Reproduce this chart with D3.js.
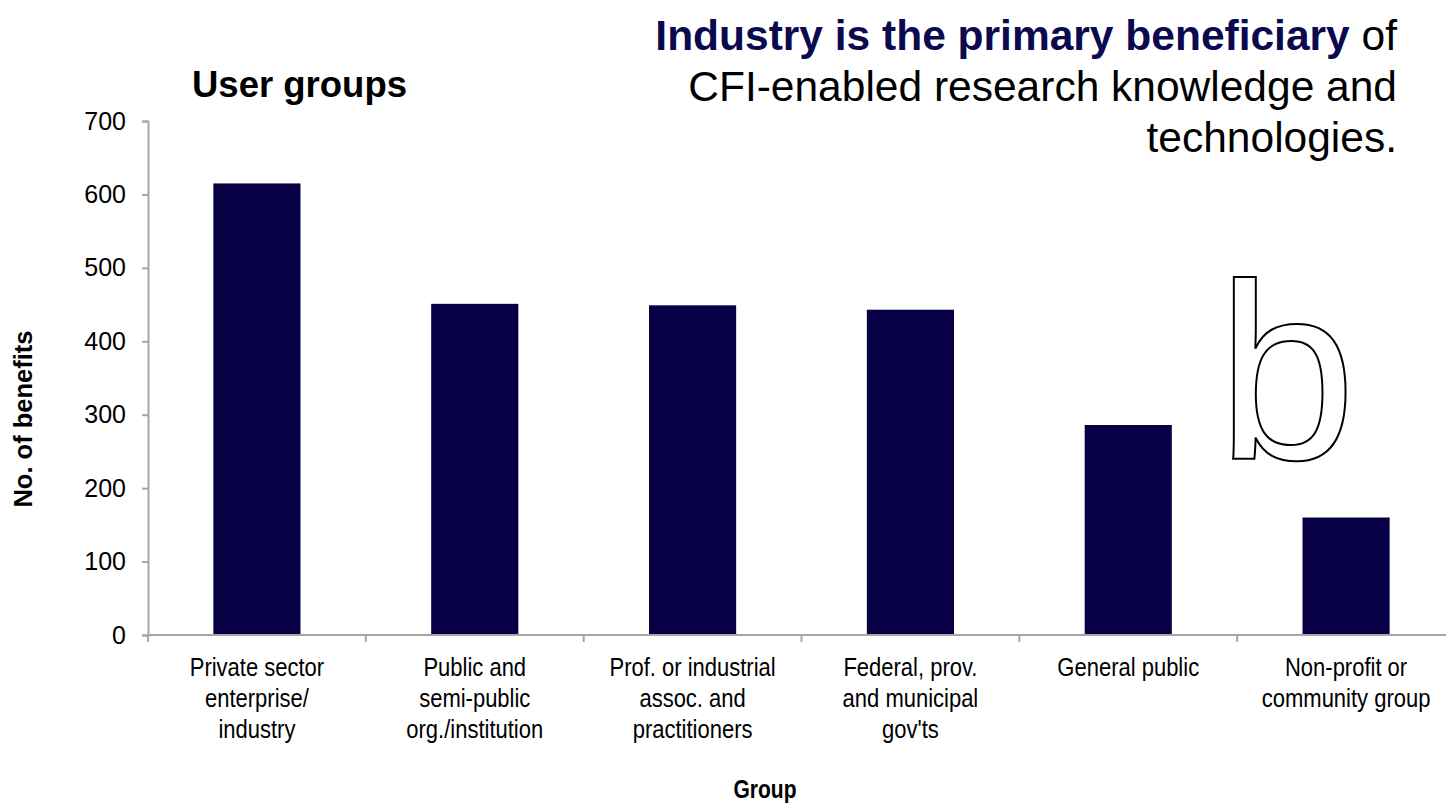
<!DOCTYPE html>
<html>
<head>
<meta charset="utf-8">
<script src="https://cdn.jsdelivr.net/npm/d3@7"></script>
<style>
  html, body { margin: 0; padding: 0; background: #fff; }
  svg { display: block; }
</style>
</head>
<body>
<svg id="chart" width="1446" height="803"></svg>
<script>
const categories = [
  ["Private sector", "enterprise/", "industry"],
  ["Public and", "semi-public", "org./institution"],
  ["Prof. or industrial", "assoc. and", "practitioners"],
  ["Federal, prov.", "and municipal", "gov'ts"],
  ["General public"],
  ["Non-profit or", "community group"]
];
const values = [615, 451, 449, 443, 286, 160];
const yTicks = [0, 100, 200, 300, 400, 500, 600, 700];

(function () {
const svg = d3.select("#chart");
const mLeft = 148, mRight = 1455, mTop = 121, mBottom = 635;
const keys = categories.map(c => c.join(" "));

const x = d3.scaleBand().domain(keys).range([mLeft, mRight]).paddingInner(0.6).paddingOuter(0.3);
const xEdge = d3.scaleBand().domain(keys).range([mLeft, mRight]);
const y = d3.scaleLinear().domain([0, 700]).range([mBottom, mTop]);

const axisColor = "#a6a6a6";
const font = "'Liberation Sans', Arial, sans-serif";
const narrowScale = 0.88;

// bars
svg.append("g").selectAll("rect").data(values).join("rect")
  .attr("x", (d, i) => x(keys[i]))
  .attr("width", x.bandwidth())
  .attr("y", d => y(d))
  .attr("height", d => y(0) - y(d))
  .attr("fill", "#080045");

// y axis
const yAxis = svg.append("g").attr("transform", `translate(${mLeft},0)`)
  .call(d3.axisLeft(y).tickValues(yTicks).tickSize(6).tickPadding(16).tickFormat(d3.format("d")));
yAxis.select(".domain").attr("stroke", axisColor).attr("stroke-width", 2);
yAxis.selectAll(".tick line").attr("stroke", axisColor).attr("stroke-width", 2);
yAxis.selectAll(".tick text").attr("font-family", font).attr("font-size", 25).attr("fill", "#000");

// x axis
const xAxisG = svg.append("g").attr("transform", `translate(0,${mBottom})`);
xAxisG.append("line").attr("x1", mLeft).attr("x2", mRight).attr("y1", 0).attr("y2", 0)
  .attr("stroke", axisColor).attr("stroke-width", 2);
const edges = keys.map(k => xEdge(k)).concat([mRight]);
xAxisG.selectAll("line.tk").data(edges).join("line").attr("class", "tk")
  .attr("x1", d => d).attr("x2", d => d).attr("y1", 0).attr("y2", 7)
  .attr("stroke", axisColor).attr("stroke-width", 2);

// x labels (condensed)
const labG = svg.append("g");
categories.forEach((lines, i) => {
  const cx = xEdge(keys[i]) + xEdge.bandwidth() / 2;
  const g = labG.append("g").attr("transform", `translate(${cx},676) scale(${narrowScale},1)`);
  const t = g.append("text").attr("x", 0).attr("y", 0)
    .attr("text-anchor", "middle").attr("font-family", font).attr("font-size", 25).attr("fill", "#000");
  lines.forEach((ln, j) => t.append("tspan").attr("x", 0).attr("dy", j === 0 ? 0 : 31).text(ln));
});

// axis titles
svg.append("g").attr("transform", `translate(765,798) scale(0.84,1)`)
  .append("text").attr("text-anchor", "middle")
  .attr("font-family", font).attr("font-weight", "bold").attr("font-size", 25).text("Group");
svg.append("text").attr("transform", "translate(32,419) rotate(-90)").attr("text-anchor", "middle")
  .attr("font-family", font).attr("font-weight", "bold").attr("font-size", 25.5).text("No. of benefits");

// chart title
svg.append("text").attr("x", 192).attr("y", 97).attr("font-family", font)
  .attr("font-weight", "bold").attr("font-size", 36.5).attr("fill", "#000").text("User groups");

// headline
const hx = 1397;
const h1 = svg.append("text").attr("x", hx).attr("y", 50).attr("text-anchor", "end")
  .attr("font-family", font).attr("font-size", 42.5);
h1.append("tspan").attr("font-weight", "bold").attr("fill", "#0b0a4f").text("Industry is the primary beneficiary");
h1.append("tspan").attr("fill", "#000").text(" of");
svg.append("text").attr("x", hx).attr("y", 101).attr("text-anchor", "end")
  .attr("font-family", font).attr("font-size", 42.5).attr("fill", "#000").text("CFI-enabled research knowledge and");
svg.append("text").attr("x", hx).attr("y", 152).attr("text-anchor", "end")
  .attr("font-family", font).attr("font-size", 42.5).attr("fill", "#000").text("technologies.");

// outlined "b"
svg.append("text").attr("x", 1217).attr("y", 459).attr("font-family", font).attr("font-size", 250)
  .attr("fill", "#fff").attr("stroke", "#000").attr("stroke-width", 2).text("b");
})();
</script>
</body>
</html>
